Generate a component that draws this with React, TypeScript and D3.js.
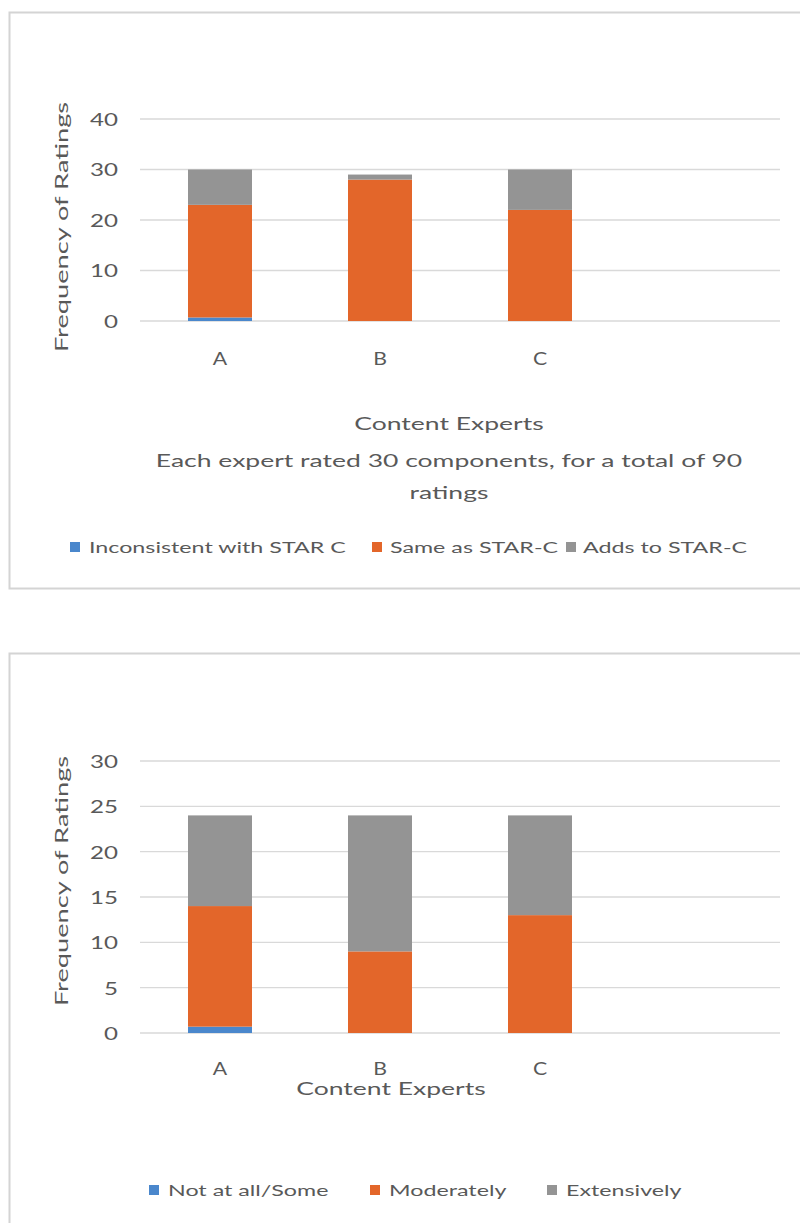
import React from "react";
import * as d3 from "d3";

// ---------- data ----------
const experts = ["A", "B", "C"];

const chart1Series = ["Inconsistent with STAR C", "Same as STAR-C", "Adds to STAR-C"];
const chart1Inconsistent = [0.7, 0, 0];
const chart1Same = [22.3, 28, 22];
const chart1Adds = [7, 1, 8];
const chart1Ticks = [0, 10, 20, 30, 40];

const chart2Series = ["Not at all/Some", "Moderately", "Extensively"];
const chart2NotAtAll = [0.7, 0, 0];
const chart2Moderately = [13.3, 9, 13];
const chart2Extensively = [10, 15, 11];
const chart2Ticks = [0, 5, 10, 15, 20, 25, 30];

const colors = ["#4A87CC", "#E3662A", "#949494"];
const FONT = "Lato, 'Open Sans', sans-serif";
const TEXT = "#595959";

function T(props: {
  x: number;
  y: number;
  size: number;
  sx: number;
  anchor?: "start" | "middle" | "end";
  rotate?: number;
  children: React.ReactNode;
}) {
  const rot = props.rotate ? ` rotate(${props.rotate})` : "";
  return (
    <text
      transform={`translate(${props.x},${props.y})${rot} scale(${props.sx},1)`}
      textAnchor={props.anchor || "start"}
      dominantBaseline="central"
      fontFamily={FONT}
      fontSize={props.size}
      fill={TEXT}
    >
      {props.children}
    </text>
  );
}

type ChartProps = {
  series: string[];
  values: number[][];
  ticks: number[];
  yTop: number;
  yBottom: number;
  yMax: number;
  yTitleY: number;
  xLabelY: number;
  titleLines: { text: string; x: number; y: number }[];
  legend: { sx: number; tx: number }[];
  legendY: number;
};

function StackedChart(p: ChartProps) {
  const x = d3
    .scaleBand<string>()
    .domain([...experts, "__blank__"])
    .range([140, 780])
    .paddingInner(0.6)
    .paddingOuter(0.3);
  const y = d3.scaleLinear().domain([0, p.yMax]).range([p.yBottom, p.yTop]);

  const rows = experts.map((e, i) => {
    const r: any = { expert: e };
    p.series.forEach((s, k) => (r[s] = p.values[k][i]));
    return r;
  });
  const stacked = d3.stack<any>().keys(p.series)(rows);

  return (
    <g>
      {p.ticks.map((t) => (
        <g key={t}>
          <line x1={140} x2={780} y1={y(t)} y2={y(t)} stroke="#d9d9d9" strokeWidth={1.3} />
          <T x={118} y={y(t)} size={17} sx={1.42} anchor="end">
            {t}
          </T>
        </g>
      ))}
      {stacked.map((layer, k) => (
        <g key={layer.key} fill={colors[k]}>
          {layer.map((d, i) =>
            d[1] - d[0] > 0 ? (
              <rect
                key={i}
                x={x(experts[i])}
                width={x.bandwidth()}
                y={y(d[1])}
                height={y(d[0]) - y(d[1])}
              />
            ) : null
          )}
        </g>
      ))}
      {experts.map((e) => (
        <T key={e} x={(x(e) as number) + x.bandwidth() / 2} y={p.xLabelY} size={17} sx={1.25} anchor="middle">
          {e}
        </T>
      ))}
      <T x={62} y={p.yTitleY} size={17} sx={1.6} anchor="middle" rotate={-90}>
        Frequency of Ratings
      </T>
      {p.titleLines.map((l, i) => (
        <T key={i} x={l.x} y={l.y} size={17} sx={1.56} anchor="middle">
          {l.text}
        </T>
      ))}
      {p.series.map((s, k) => (
        <g key={s}>
          <rect x={p.legend[k].sx} y={p.legendY - 5} width={10} height={10} fill={colors[k]} />
          <T x={p.legend[k].tx} y={p.legendY} size={15.5} sx={1.5}>
            {s}
          </T>
        </g>
      ))}
    </g>
  );
}

export default function App() {
  return (
    <svg
      width={800}
      height={1223}
      style={{ position: "absolute", left: 0, top: 0, display: "block", background: "#fff" }}
    >
      <rect x={9.5} y={12.5} width={900} height={576} fill="#fff" stroke="#d4d4d4" strokeWidth={2} />
      <rect x={9.5} y={653.5} width={900} height={700} fill="#fff" stroke="#d4d4d4" strokeWidth={2} />
      <StackedChart
        series={chart1Series}
        values={[chart1Inconsistent, chart1Same, chart1Adds]}
        ticks={chart1Ticks}
        yTop={119}
        yBottom={321}
        yMax={40}
        yTitleY={227}
        xLabelY={358}
        titleLines={[
          { text: "Content Experts", x: 449, y: 424 },
          { text: "Each expert rated 30 components, for a total of 90", x: 449, y: 461 },
          { text: "ratings", x: 449, y: 493 },
        ]}
        legend={[
          { sx: 70, tx: 89 },
          { sx: 372, tx: 390 },
          { sx: 566, tx: 583 },
        ]}
        legendY={547}
      />
      <StackedChart
        series={chart2Series}
        values={[chart2NotAtAll, chart2Moderately, chart2Extensively]}
        ticks={chart2Ticks}
        yTop={761}
        yBottom={1033}
        yMax={30}
        yTitleY={881}
        xLabelY={1068}
        titleLines={[{ text: "Content Experts", x: 391, y: 1089 }]}
        legend={[
          { sx: 149, tx: 168 },
          { sx: 370, tx: 389 },
          { sx: 547, tx: 566 },
        ]}
        legendY={1190}
      />
    </svg>
  );
}
